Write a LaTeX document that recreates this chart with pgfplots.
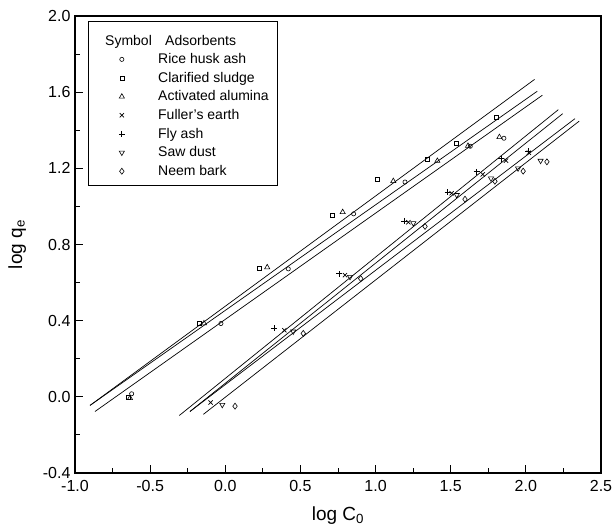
\documentclass[border=0pt]{standalone}
\usepackage{pgfplots}
\pgfplotsset{compat=1.18}
\usepackage{fontspec}
\setmainfont{Liberation Sans}

\begin{document}
\begin{tikzpicture}
\path[use as bounding box] (-75pt,-55pt) rectangle (538pt,473pt);
\begin{axis}[
  at={(0,0)}, anchor=south west,
  scale only axis, width=526pt, height=457pt,
  xmin=-1, xmax=2.5, ymin=-0.4, ymax=2.0,
  xtick={-1,-0.5,0,0.5,1,1.5,2,2.5},
  ytick={-0.4,0,0.4,0.8,1.2,1.6,2.0},
  minor x tick num=1, minor y tick num=1,
  xtick pos=lower, ytick pos=left, tick align=inside,
  major tick length=8pt, minor tick length=5pt,
  axis line style={line width=1.1pt},
  every tick/.style={black, line width=1pt},
  ticklabel style={font=\fontsize{16}{18}\selectfont},
  xticklabel style={yshift=-4pt},
  yticklabel style={xshift=-1pt},
  /pgf/number format/.cd, fixed, fixed zerofill, precision=1, assume math mode=true, /pgfplots/.cd,
  xlabel={log C\textsubscript{0}},
  ylabel={log q\textsubscript{e}},
  label style={font=\fontsize{19}{21}\selectfont},
  xlabel style={yshift=-8pt},
  ylabel style={yshift=10pt},
  legend style={at={(axis description cs:0.025,0.989)}, anchor=north west,
    draw=black, line width=0.7pt, inner xsep=0pt, inner ysep=6pt,
    font=\fontsize{14}{16}\selectfont, row sep=3pt},
  legend cell align=left,
  legend image code/.code={\path (-33pt,0pt) (34pt,0pt); \draw plot coordinates {(0pt,0pt)};},
]
\addlegendimage{legend image code/.code={\path (-33pt,0pt) (34pt,0pt) (0pt,13pt); \node[anchor=west, inner sep=0pt, font=\fontsize{14}{16}\selectfont] at (-17pt,0pt) {Symbol};}}
\addlegendentry{\hspace*{7pt}Adsorbents}

% Rice husk ash
\addplot[only marks, mark=o, mark size=2.1pt, mark options={line width=0.6pt}] coordinates {
(-0.623,0.016) (-0.029,0.385) (0.419,0.672) (0.854,0.961) (1.196,1.128) (1.630,1.316) (1.854,1.358)};
\addlegendentry{Rice husk ash}
% Clarified sludge
\addplot[only marks, mark=square, mark size=2.0pt, mark options={line width=0.6pt}] coordinates {
(-0.645,-0.002) (-0.173,0.386) (0.224,0.677) (0.710,0.952) (1.014,1.144) (1.344,1.250) (1.540,1.330) (1.806,1.469)};
\addlegendentry{Clarified sludge}
% Activated alumina
\addplot[only marks, mark=triangle, mark size=3pt, mark options={line width=0.6pt}] coordinates {
(-0.634,-0.007) (-0.142,0.386) (0.279,0.680) (0.781,0.970) (1.118,1.133) (1.411,1.239) (1.615,1.318) (1.824,1.364)};
\addlegendentry{Activated alumina\hspace*{7pt}}
% Fuller's earth
\addplot[only marks, mark=x, mark size=3pt, mark options={line width=0.7pt}] coordinates {
(-0.098,-0.030) (0.393,0.350) (0.796,0.639) (1.218,0.917) (1.506,1.069) (1.713,1.168) (1.868,1.240) (2.020,1.282)};
\addlegendentry{Fuller's earth}
% Fly ash
\addplot[only marks, mark=+, mark size=3pt, mark options={line width=0.7pt}] coordinates {
(0.324,0.359) (0.759,0.646) (1.191,0.924) (1.480,1.074) (1.673,1.182) (1.837,1.251) (2.016,1.290)};
\addlegendentry{Fly ash}
% Saw dust
\addplot[only marks, mark=triangle, mark size=3pt, mark options={rotate=180, line width=0.6pt}] coordinates {
(-0.020,-0.042) (0.452,0.343) (0.830,0.630) (1.251,0.912) (1.540,1.060) (1.768,1.147) (1.948,1.200) (2.098,1.240)};
\addlegendentry{Saw dust}
% Neem bark
\addplot[only marks, mark=diamond, mark size=3pt, mark options={line width=0.6pt}] coordinates {
(0.065,-0.049) (0.519,0.333) (0.901,0.621) (1.329,0.895) (1.595,1.038) (1.794,1.132) (1.982,1.185) (2.140,1.234)};
\addlegendentry{Neem bark}

% fitted lines
\addplot[black, line width=0.7pt, forget plot] coordinates {(-0.900,-0.045) (2.058,1.667)};
\addplot[black, line width=0.7pt, forget plot] coordinates {(-0.900,-0.045) (2.076,1.605)};
\addplot[black, line width=0.7pt, forget plot] coordinates {(-0.867,-0.077) (2.110,1.584)};
\addplot[black, line width=0.7pt, forget plot] coordinates {(-0.306,-0.098) (2.216,1.508)};
\addplot[black, line width=0.7pt, forget plot] coordinates {(-0.235,-0.077) (2.245,1.487)};
\addplot[black, line width=0.7pt, forget plot] coordinates {(-0.235,-0.077) (2.327,1.461)};
\addplot[black, line width=0.7pt, forget plot] coordinates {(-0.146,-0.092) (2.355,1.448)};
\end{axis}
\end{tikzpicture}
\end{document}
